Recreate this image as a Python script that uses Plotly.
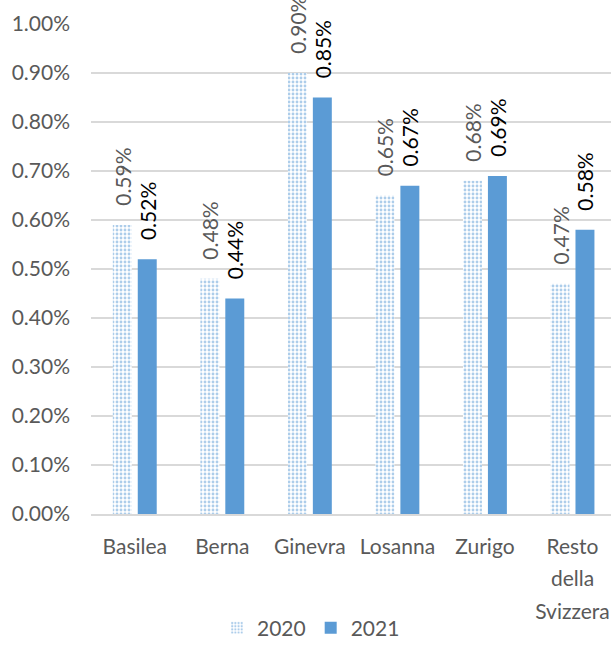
import plotly.graph_objects as go

categories = ["Basilea", "Berna", "Ginevra", "Losanna", "Zurigo", "Resto della Svizzera"]
tick_labels = ["Basilea", "Berna", "Ginevra", "Losanna", "Zurigo", "Resto<br>della<br>Svizzera"]
values_2020 = [0.0059, 0.0048, 0.0090, 0.0065, 0.0068, 0.0047]
values_2021 = [0.0052, 0.0044, 0.0085, 0.0067, 0.0069, 0.0058]
y_ticks = [0.0, 0.001, 0.002, 0.003, 0.004, 0.005, 0.006, 0.007, 0.008, 0.009, 0.010]

BLUE = "#5B9BD5"
GREY = "#595959"
FONT = "Lato, Open Sans, sans-serif"
FS = 21
PAD = "\u00a0\u00a0\u00a0"

def span(t):
    return "<br>".join(f"<span style='font-size:{FS}px'>{p}</span>" for p in t.split("<br>"))

fig = go.Figure()
fig.add_trace(go.Bar(
    x=categories, y=values_2020, name="2020",
    marker=dict(color="white", line=dict(width=0),
                pattern=dict(shape=".", fgcolor=BLUE, bgcolor="white", size=4, solidity=0.4)),
    texttemplate=PAD + "%{y:.2%}", textposition="outside", textangle=-90,
    textfont=dict(family=FONT, size=FS, color=GREY), cliponaxis=False, constraintext="none",
))
fig.add_trace(go.Bar(
    x=categories, y=values_2021, name="2021",
    marker=dict(color=BLUE, line=dict(width=0)),
    texttemplate=PAD + "%{y:.2%}", textposition="outside", textangle=-90,
    textfont=dict(family=FONT, size=FS, color="black"), cliponaxis=False, constraintext="none",
))

fig.update_layout(
    width=611, height=664,
    margin=dict(l=91, r=0, t=24, b=150),
    paper_bgcolor="white", plot_bgcolor="white",
    barmode="group", bargap=0.43, bargroupgap=0.24,
    font=dict(family=FONT, size=FS, color=GREY),
    showlegend=True,
    legend=dict(orientation="h", x=0.423, xanchor="center", y=-0.233, yanchor="middle",
                font=dict(family=FONT, size=FS, color=GREY), itemwidth=30),
    xaxis=dict(
        tickmode="array", tickvals=categories, ticktext=[span(t) for t in tick_labels],
        tickfont=dict(family=FONT, size=25, color=GREY),
        range=[-0.5, 5.44], showgrid=False, automargin=False,
        showline=True, linecolor="#D9D9D9", linewidth=1.5, ticks="", ticklabelstandoff=8,
    ),
    yaxis=dict(
        range=[0, 0.010], tickvals=y_ticks, tickformat=".2%",
        tickfont=dict(family=FONT, size=FS, color=GREY), automargin=False,
        showgrid=True, gridcolor="#D9D9D9", gridwidth=1.5,
        zeroline=False, showline=False, ticks="", ticklabelstandoff=20,
    ),
)

fig.write_html("out.html", config={"displayModeBar": False},
               post_script="document.body.style.margin='0';document.body.style.overflow='hidden';")
